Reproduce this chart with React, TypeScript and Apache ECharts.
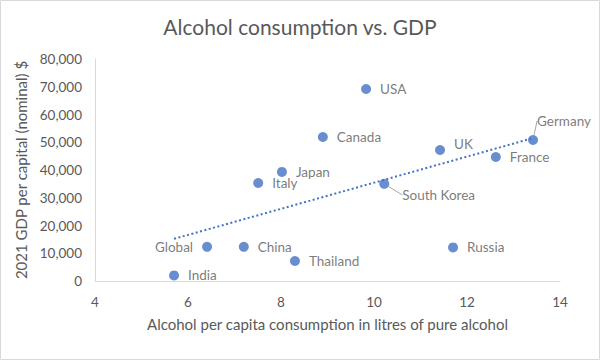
import React, { useEffect, useRef } from "react";
import * as echarts from "echarts";

const countries = ["USA", "Canada", "UK", "Germany", "France", "South Korea", "Japan", "Italy", "Global", "China", "Thailand", "Russia", "India"];
const alcohol = [9.83, 8.9, 11.42, 13.42, 12.62, 10.22, 8.02, 7.51, 6.41, 7.2, 8.3, 11.7, 5.7];
const gdp = [69200, 51900, 47200, 50800, 44700, 35000, 39300, 35300, 12300, 12300, 7200, 12100, 2000];
const labelSide = ["right", "right", "right", "right", "right", "right", "right", "right", "left", "right", "right", "right", "right"];
const leaderLine = [false, false, false, true, false, true, false, false, false, false, false, false, false];
const xTicks = [4, 6, 8, 10, 12, 14];
const yTicks = [0, 10000, 20000, 30000, 40000, 50000, 60000, 70000, 80000];

const FONT = "Lato";
const TXT = "#595959";
const BLUE = "#4472C4";

function regression(xs: number[], ys: number[]) {
  const n = xs.length;
  const mx = xs.reduce((a, b) => a + b, 0) / n;
  const my = ys.reduce((a, b) => a + b, 0) / n;
  let sxy = 0, sxx = 0;
  for (let i = 0; i < n; i++) {
    sxy += (xs[i] - mx) * (ys[i] - my);
    sxx += (xs[i] - mx) * (xs[i] - mx);
  }
  const k = sxy / sxx;
  return { k, b: my - k * mx };
}

export default function App() {
  const ref = useRef<HTMLDivElement>(null);
  useEffect(() => {
    document.body.style.margin = "0";
    const chart = echarts.init(ref.current!, null, { renderer: "svg" });
    const { k, b } = regression(alcohol, gdp);
    const xmin = Math.min(...alcohol);
    const xmax = Math.max(...alcohol);
    const trend = [[xmin, k * xmin + b], [xmax, k * xmax + b]];
    const data = countries.map((c, i) => ({
      name: c,
      value: [alcohol[i], gdp[i]],
      label: { position: labelSide[i] },
      labelLine: { show: leaderLine[i] },
    }));
    chart.setOption({
      animation: false,
      backgroundColor: "#fff",
      textStyle: { fontFamily: FONT },
      title: {
        text: "Alcohol consumption vs. GDP",
        left: "center",
        top: 11,
        textStyle: { fontFamily: FONT, fontSize: 21, fontWeight: "normal", color: TXT },
      },
      graphic: [
        {
          type: "rect",
          shape: { x: 0.5, y: 0.5, width: 599, height: 359 },
          style: { fill: "none", stroke: "#D9D9D9", lineWidth: 1 },
          silent: true,
        },
      ],
      grid: { left: 95, right: 40, top: 59, bottom: 79 },
      xAxis: {
        type: "value",
        min: xTicks[0],
        max: xTicks[xTicks.length - 1],
        interval: 2,
        axisLine: { show: true, lineStyle: { color: "#D9D9D9", width: 1 } },
        axisTick: { show: false },
        splitLine: { show: false },
        axisLabel: { color: TXT, fontSize: 13.5, fontFamily: FONT, margin: 14 },
        name: "Alcohol per capita consumption in litres of pure alcohol",
        nameLocation: "middle",
        nameGap: 35,
        nameTextStyle: { color: TXT, fontSize: 15, fontFamily: FONT },
      },
      yAxis: {
        type: "value",
        min: yTicks[0],
        max: yTicks[yTicks.length - 1],
        interval: 10000,
        axisLine: { show: true, lineStyle: { color: "#D9D9D9", width: 1 } },
        axisTick: { show: false },
        splitLine: { show: false },
        axisLabel: {
          color: TXT,
          fontSize: 13.5,
          fontFamily: FONT,
          margin: 13,
          formatter: (v: number) => v.toLocaleString("en-US"),
        },
        name: "2021 GDP per capital (nominal) $",
        nameLocation: "middle",
        nameGap: 64,
        nameTextStyle: { color: TXT, fontSize: 15, fontFamily: FONT },
      },
      series: [
        {
          type: "line",
          data: trend,
          symbol: "none",
          silent: true,
          lineStyle: { color: BLUE, width: 2, type: [2, 2.5] },
          z: 1,
        },
        {
          type: "scatter",
          data,
          symbolSize: 10,
          itemStyle: { color: BLUE },
          z: 2,
          label: {
            show: true,
            formatter: "{b}",
            color: TXT,
            fontSize: 13.5,
            fontFamily: FONT,
            distance: 9,
          },
          labelLine: { show: false, lineStyle: { color: "#A6A6A6", width: 1 } },
          labelLayout: (p: any) => {
            const name = countries[p.dataIndex];
            if (name === "Germany") return { dx: -10, dy: -19 };
            if (name === "South Korea") return { dx: 4, dy: 11 };
            if (name === "UK") return { dy: -6 };
            return {};
          },
        },
      ],
    });
    return () => chart.dispose();
  }, []);
  return <div ref={ref} style={{ width: 600, height: 360, position: "absolute", left: 0, top: 0 }} />;
}
